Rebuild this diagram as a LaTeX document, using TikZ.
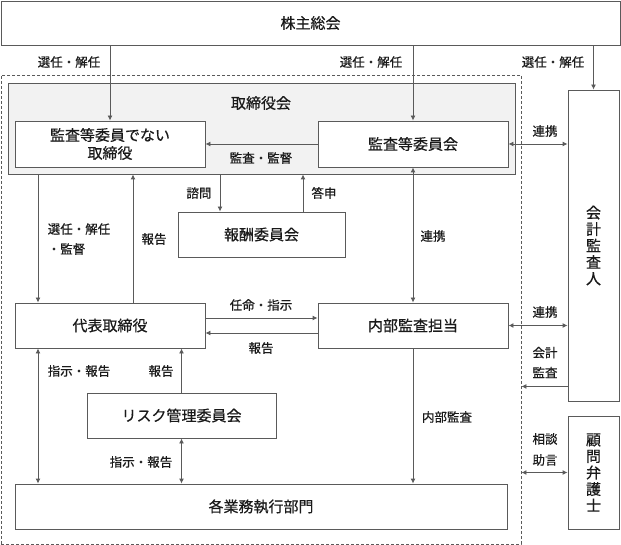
\documentclass[tikz,border=0pt]{standalone}
\usepackage{fontspec}
\setmainfont{Noto Sans CJK JP}[FakeBold=0.5]
\usetikzlibrary{arrows.meta}

\definecolor{linegray}{HTML}{5A5A5A}
\definecolor{boardgray}{HTML}{F2F2F2}
\definecolor{textblack}{HTML}{1A1A1A}

\begin{document}
\begin{tikzpicture}[x=1pt, y=-1pt, >={Latex[length=5pt,width=5pt]}, line width=0.9pt,
    box/.style={draw=linegray, fill=white, text=textblack, align=center, inner sep=0pt,
                font=\fontsize{15}{18}\selectfont},
    vbox/.style={box, minimum width=51pt, font=\fontsize{15}{16.5}\selectfont},
    lbl/.style={text=textblack, inner sep=0pt, align=left, font=\fontsize{12.5}{20}\selectfont},
    link/.style={draw=linegray, ->},
    both/.style={draw=linegray, <->}]

\useasboundingbox (0,0) rectangle (621,545);

% ============================
% Company frame (dashed)
% ============================
\node[draw=linegray, dash pattern=on 3pt off 2pt, minimum width=520pt, minimum height=469pt] (company) at (261,309.5) {};

% ============================
% Nodes
% ============================
\node[box, minimum width=619pt, minimum height=44pt] (soukai) at (310.5,23) {株主総会};

% Board of directors (grey)
\node[box, fill=boardgray, minimum width=507pt, minimum height=91pt] (board) at (261.5,128.5) {};
\node[text=textblack, font=\fontsize{15}{18}\selectfont] (boardtitle) at (261,103) {取締役会};

\node[box, minimum width=190pt, minimum height=46pt] (directors) at (110,144) {監査等委員でない\\取締役};
\node[box, minimum width=190pt, minimum height=46pt] (auditcom)  at (413,144) {監査等委員会};

\node[box, minimum width=167pt, minimum height=45pt] (reward)   at (261.5,234.5) {報酬委員会};
\node[box, minimum width=190pt, minimum height=45pt] (ceo)      at (110,325.5) {代表取締役};
\node[box, minimum width=190pt, minimum height=45pt] (internal) at (413,325.5) {内部監査担当};
\node[box, minimum width=189pt, minimum height=45pt] (risk)     at (181.5,415.5) {リスク管理委員会};
\node[box, minimum width=492pt, minimum height=45pt] (units)    at (261,506.5) {各業務執行部門};

% Outside parties (vertical text)
\node[vbox, minimum height=311pt] (auditor) at (593.5,245.5) {会\\計\\監\\査\\人};
\node[vbox, minimum height=113pt] (lawyer)  at (593.5,472.5) {顧\\問\\弁\\護\\士};

% ============================
% Shareholders -> appointments
% ============================
\draw[link] (directors.north |- soukai.south) -- (directors.north);
\draw[link] (auditcom.north |- soukai.south) -- (auditcom.north);
\draw[link] (auditor.north |- soukai.south) -- (auditor.north);

\node[lbl] at (69,62)  {選任・解任};
\node[lbl] at (371,62) {選任・解任};
\node[lbl] at (553,62) {選任・解任};

% ============================
% Inside the board
% ============================
\draw[link] (auditcom.west) -- (directors.east);
\node[lbl] at (261,158) {監査・監督};

\draw[both] (auditcom.east) -- (auditcom.east -| auditor.west);
\node[lbl] at (545,131) {連携};

% Board <-> reward committee
\draw[link] ([xshift=-41.5pt]reward.north |- board.south) -- ([xshift=-41.5pt]reward.north);
\draw[link] ([xshift=41.5pt]reward.north) -- ([xshift=41.5pt]reward.north |- board.south);
\node[lbl] at (199,193) {諮問};
\node[lbl] at (324,193) {答申};

% Board <-> CEO
\draw[link] ([xshift=-72pt]ceo.north |- board.south) -- ([xshift=-72pt]ceo.north);
\draw[link] ([xshift=23pt]ceo.north) -- ([xshift=23pt]ceo.north |- board.south);
\node[lbl] at (79,239)  {選任・解任\\・監督};
\node[lbl] at (154,239) {報告};

% Audit committee <-> internal audit
\draw[both] (auditcom.south) -- (internal.north);
\node[lbl] at (433,236) {連携};

% ============================
% CEO <-> internal audit
% ============================
\draw[link] ([yshift=7.5pt]ceo.east) -- ([yshift=7.5pt]internal.west);
\node[lbl] at (261,305) {任命・指示};
\draw[link] ([yshift=-7.5pt]internal.west) -- ([yshift=-7.5pt]ceo.east);
\node[lbl] at (261,348) {報告};

\draw[both] (internal.east) -- (internal.east -| auditor.west);
\node[lbl] at (545,312) {連携};

% Accounting audit into the company
\draw[link] ([yshift=15pt]auditor.south west) -- ([yshift=15pt]auditor.south west -| company.east);
\node[lbl, align=center] at (545,362.5) {会計\\監査};

% Lawyer
\draw[both] (lawyer.west -| company.east) -- (lawyer.west);
\node[lbl, align=center, font=\fontsize{12.5}{21}\selectfont] at (545,449.5) {相談\\助言};

% ============================
% Lower part
% ============================
\draw[both] ([xshift=-72pt]ceo.south) -- ([xshift=-72pt]ceo.south |- units.north);
\node[lbl] at (79,371) {指示・報告};

\draw[link] (risk.north) -- (risk.north |- ceo.south);
\node[lbl] at (161,371) {報告};

\draw[both] (risk.south) -- (risk.south |- units.north);
\node[lbl] at (141,462) {指示・報告};

\draw[link] (internal.south) -- (internal.south |- units.north);
\node[lbl] at (447,417) {内部監査};

\end{tikzpicture}
\end{document}
